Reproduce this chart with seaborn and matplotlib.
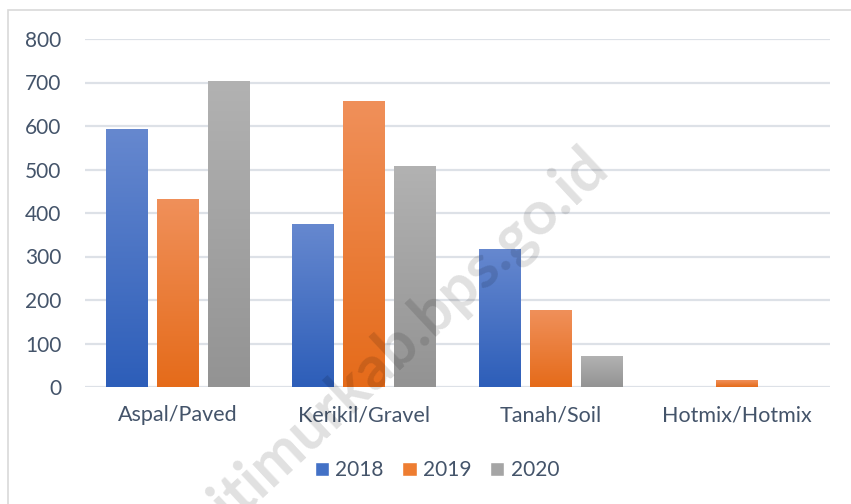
import matplotlib.pyplot as plt
import matplotlib.patches as mpatches
import matplotlib.colors as mcolors
import numpy as np
import pandas as pd
import seaborn as sns

# values
categories = ["Aspal/Paved", "Kerikil/Gravel", "Tanah/Soil", "Hotmix/Hotmix"]
years = ["2018", "2019", "2020"]
v2018 = [591, 374, 315, 0]
v2019 = [432, 657, 176, 15]
v2020 = [703, 508, 71, 0]
yticks = [0, 100, 200, 300, 400, 500, 600, 700, 800]

# gradient colours per year (top, bottom)
gradients = {
    "2018": ("#6688cf", "#2d5eb9"),
    "2019": ("#f0905a", "#e56b1a"),
    "2020": ("#b2b2b2", "#939393"),
}
legendColors = {"2018": "#4371c6", "2019": "#ee7d31", "2020": "#a5a5a5"}
textColor = "#44546a"
gridColor = "#dde1e7"

df = pd.DataFrame({
    "Category": categories * 3,
    "Year": ["2018"] * 4 + ["2019"] * 4 + ["2020"] * 4,
    "Value": v2018 + v2019 + v2020,
})

sns.set_style("white")
plt.rcParams["font.family"] = ["Lato", "DejaVu Sans"]

fig = plt.figure(figsize=(8.51, 5.04), dpi=100)
ax = fig.add_axes([85 / 851, 1 - 387 / 504, 745 / 851, 348 / 504])

sns.barplot(data=df, x="Category", y="Value", hue="Year", order=categories,
            hue_order=years, width=0.822, gap=0.177, palette=legendColors,
            legend=False, ax=ax, errorbar=None)

# replace each flat bar by a vertical gradient
barYears = []
for y in years:
    barYears += [y] * len(categories)
for patch, year in zip(ax.patches, barYears):
    h = patch.get_height()
    if h <= 0:
        patch.set_visible(False)
        continue
    x0 = patch.get_x()
    w = patch.get_width()
    cmap = mcolors.LinearSegmentedColormap.from_list("g", [gradients[year][1], gradients[year][0]])
    grad = np.linspace(0, 1, 256).reshape(-1, 1)
    ax.imshow(grad, extent=[x0, x0 + w, 0, h], origin="lower", aspect="auto",
              cmap=cmap, zorder=3, interpolation="bicubic")
    patch.set_visible(False)

ax.set_xlim(-0.5, 3.5)
ax.set_ylim(0, 800)
ax.set_yticks(yticks)
ax.yaxis.grid(True, color=gridColor, linewidth=1.6, zorder=0)
ax.set_axisbelow(True)
for s in ax.spines.values():
    s.set_visible(False)
ax.tick_params(axis="both", length=0, colors=textColor, labelsize=15)
ax.tick_params(axis="x", labelsize=15.5, pad=13)
ax.tick_params(axis="y", pad=17)
ax.set_xlabel("")
ax.set_ylabel("")

handles = [mpatches.Patch(facecolor=legendColors[y], label=y) for y in years]
leg = fig.legend(handles=handles, loc="center", bbox_to_anchor=(437 / 851, 1 - 470 / 504),
                 ncol=3, frameon=False, fontsize=15, handlelength=0.68, handleheight=0.68,
                 handletextpad=0.3, columnspacing=0.9)
for t in leg.get_texts():
    t.set_color(textColor)

# chart area border (partly cropped in the source)
fig.patches.append(mpatches.Rectangle((8 / 851, -0.1), 1.2, 1.1 - 10 / 504,
                                      transform=fig.transFigure, fill=False,
                                      edgecolor="#d9d9d9", linewidth=1.2))

# watermark, anchored at the end of its baseline
fig.text(610 / 851, 1 - 170 / 504, "manggaraitimurkab.bps.go.id", rotation=43,
         rotation_mode="anchor", ha="right", va="baseline", fontsize=44,
         fontweight="bold", color="#000000", alpha=0.12, zorder=10)

plt.savefig("out.png", dpi=100)
